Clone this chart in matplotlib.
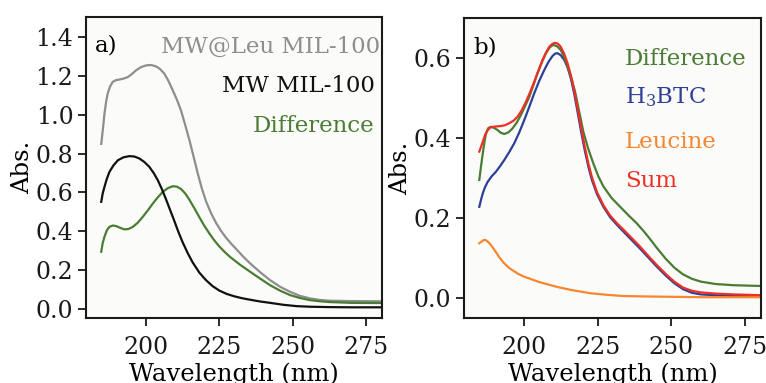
import numpy as np
import matplotlib.pyplot as plt

plt.rcParams['font.family'] = ['DejaVu Serif']
plt.rcParams['mathtext.fontset'] = 'dejavuserif'

# panel a) wavelength (nm) vs absorbance
wl_leu = [184.7, 185.3, 185.8, 186.4, 186.9, 187.7, 188.6, 189.7, 190.9, 192.3, 193.8,
          195.2, 196.6, 198.3, 200.0, 201.7, 203.4, 204.8, 206.2, 207.6, 209.1, 210.5,
          211.9, 213.3, 214.8, 216.2, 217.6, 219.0, 220.5, 222.2, 223.9, 225.6, 227.3,
          229.0, 230.7, 233.0, 235.5, 238.9, 242.3, 245.7, 249.1, 252.5, 255.9, 259.3,
          262.7, 270.0, 280.5]
abs_leu = [0.85, 0.93, 1.006, 1.07, 1.109, 1.145, 1.169, 1.178, 1.181, 1.186, 1.194,
           1.21, 1.229, 1.245, 1.254, 1.256, 1.249, 1.235, 1.212, 1.175, 1.126, 1.078,
           1.023, 0.95, 0.869, 0.785, 0.70, 0.622, 0.553, 0.492, 0.443, 0.402, 0.367,
           0.337, 0.31, 0.272, 0.235, 0.19, 0.149, 0.115, 0.089, 0.068, 0.055, 0.047,
           0.043, 0.041, 0.040]

wl_mw = [184.7, 185.2, 185.8, 186.6, 187.5, 188.9, 190.4, 192.3, 194.3, 196.0, 197.7,
         199.4, 201.1, 202.6, 204.0, 205.4, 206.8, 208.2, 209.6, 211.0, 212.5, 214.2,
         215.9, 218.2, 220.5, 222.7, 225.0, 227.5, 230.0, 232.7, 235.5, 238.9, 242.3,
         246.8, 251.4, 256.0, 262.7, 270.0, 280.5]
abs_mw = [0.552, 0.595, 0.629, 0.67, 0.706, 0.74, 0.766, 0.781, 0.787, 0.785, 0.775,
          0.757, 0.732, 0.70, 0.663, 0.617, 0.565, 0.51, 0.455, 0.398, 0.343, 0.288,
          0.24, 0.187, 0.148, 0.118, 0.095, 0.078, 0.066, 0.056, 0.048, 0.039, 0.032,
          0.022, 0.015, 0.012, 0.010, 0.009, 0.009]

wl_diff_a = [184.7, 185.2, 185.8, 186.6, 187.5, 188.6, 189.8, 191.2, 192.6, 194.0, 195.5,
             197.2, 198.9, 200.6, 202.3, 204.0, 205.7, 207.4, 209.1, 210.5, 211.9, 213.3,
             214.8, 216.5, 218.2, 219.9, 221.6, 223.3, 225.0, 226.8, 228.6, 231.9, 235.5,
             238.9, 242.3, 245.7, 249.1, 252.5, 255.9, 259.3, 262.7, 270.0, 280.5]
abs_diff_a = [0.295, 0.34, 0.372, 0.405, 0.423, 0.43, 0.427, 0.418, 0.410, 0.412, 0.423,
              0.445, 0.475, 0.508, 0.543, 0.575, 0.603, 0.622, 0.632, 0.630, 0.618, 0.596,
              0.562, 0.518, 0.472, 0.428, 0.389, 0.353, 0.322, 0.294, 0.269, 0.23, 0.192,
              0.157, 0.123, 0.095, 0.072, 0.057, 0.046, 0.040, 0.036, 0.032, 0.031]

# panel b)
wl_diff_b = [184.7, 185.3, 185.9, 186.5, 187.0, 187.8, 188.7, 189.8, 190.9, 192.0, 193.2,
             194.6, 196.0, 197.4, 198.9, 200.3, 201.7, 203.1, 204.5, 206.0, 207.4, 208.7,
             209.9, 211.2, 212.4, 213.6, 214.7, 216.0, 217.3, 218.7, 220.1, 221.8, 223.5,
             225.2, 226.9, 229.7, 232.6, 235.4, 238.2, 240.5, 242.7, 245.0, 248.0, 251.0,
             254.0, 257.0, 260.0, 265.0, 271.0, 280.5]
abs_diff_b = [0.295, 0.33, 0.362, 0.392, 0.412, 0.425, 0.428, 0.425, 0.42, 0.413, 0.41,
              0.414, 0.424, 0.438, 0.458, 0.48, 0.503, 0.532, 0.562, 0.59, 0.612, 0.627,
              0.633, 0.629, 0.62, 0.602, 0.578, 0.55, 0.515, 0.465, 0.415, 0.372, 0.336,
              0.304, 0.279, 0.25, 0.228, 0.207, 0.187, 0.168, 0.148, 0.126, 0.099, 0.076,
              0.059, 0.048, 0.041, 0.035, 0.032, 0.030]

wl_btc = [184.7, 185.3, 185.9, 186.7, 187.6, 189.0, 190.4, 191.8, 193.2, 194.9, 196.6,
          198.3, 200.0, 201.7, 203.4, 205.1, 206.8, 208.2, 209.6, 210.5, 211.3, 212.4,
          213.6, 214.7, 215.8, 217.0, 218.2, 219.4, 220.6, 221.8, 223.0, 224.7, 226.9,
          229.2, 231.5, 233.7, 236.5, 239.3, 242.7, 245.5, 248.4, 251.0, 254.0, 257.0,
          260.0, 265.0, 271.0, 280.5]
abs_btc = [0.228, 0.246, 0.262, 0.278, 0.291, 0.305, 0.316, 0.33, 0.345, 0.365, 0.387,
           0.414, 0.445, 0.478, 0.512, 0.543, 0.57, 0.59, 0.605, 0.611, 0.612, 0.607,
           0.595, 0.577, 0.55, 0.51, 0.462, 0.413, 0.368, 0.328, 0.295, 0.26, 0.228,
           0.202, 0.183, 0.166, 0.145, 0.124, 0.097, 0.075, 0.054, 0.037, 0.022, 0.013,
           0.009, 0.007, 0.005, 0.004]

wl_leucine = [184.7, 185.5, 186.2, 186.8, 187.6, 188.5, 189.5, 190.5, 191.7, 193.0,
              194.7, 196.5, 198.0, 199.7, 202.0, 205.0, 208.0, 211.0, 216.0, 222.4,
              228.0, 233.6, 240.0, 250.0, 260.0, 280.5]
abs_leucine = [0.137, 0.141, 0.145, 0.145, 0.141, 0.134, 0.124, 0.113, 0.100, 0.088,
               0.076, 0.067, 0.060, 0.054, 0.048, 0.040, 0.034, 0.028, 0.020, 0.012,
               0.008, 0.005, 0.004, 0.003, 0.002, 0.002]

wl_sum = [184.7, 185.3, 185.9, 186.7, 187.6, 188.4, 189.3, 190.7, 192.1, 193.5, 194.9,
          196.3, 197.7, 199.1, 200.6, 202.0, 203.4, 204.8, 206.2, 207.4, 208.5, 209.5,
          210.4, 211.4, 212.4, 213.6, 214.7, 215.9, 217.0, 218.2, 219.4, 220.6, 221.8,
          223.0, 224.7, 226.9, 229.2, 231.5, 233.7, 236.5, 239.3, 242.7, 245.5, 248.4,
          251.0, 254.0, 257.0, 260.0, 265.0, 271.0, 280.5]
abs_sum = [0.366, 0.378, 0.391, 0.408, 0.42, 0.426, 0.428, 0.429, 0.43, 0.432, 0.437,
           0.443, 0.453, 0.469, 0.491, 0.515, 0.541, 0.568, 0.595, 0.614, 0.628, 0.635,
           0.638, 0.636, 0.628, 0.61, 0.587, 0.555, 0.518, 0.472, 0.424, 0.377, 0.336,
           0.302, 0.265, 0.232, 0.206, 0.187, 0.171, 0.150, 0.129, 0.101, 0.079, 0.058,
           0.041, 0.026, 0.018, 0.014, 0.011, 0.009, 0.007]

bg = '#fbfbfa'
green = '#4a7d33'
blue = '#2e3f98'
orange = '#f68630'
red = '#ee3024'
gray = '#8e8e8e'
black = '#111111'

fig = plt.figure(figsize=(7.66, 3.83), dpi=100, facecolor='white')
ax1 = fig.add_axes([86/766, 1-318/383, 296/766, 301/383], facecolor=bg)
ax2 = fig.add_axes([464/766, 1-318/383, 297/766, 300/383], facecolor=bg)

lw = 1.6
ax1.plot(wl_leu, abs_leu, color=gray, lw=lw)
ax1.plot(wl_diff_a, abs_diff_a, color=green, lw=lw)
ax1.plot(wl_mw, abs_mw, color=black, lw=lw)

ax2.plot(wl_btc, abs_btc, color=blue, lw=lw)
ax2.plot(wl_diff_b, abs_diff_b, color=green, lw=lw)
ax2.plot(wl_sum, abs_sum, color=red, lw=lw)
ax2.plot(wl_leucine, abs_leucine, color=orange, lw=lw)

for ax in (ax1, ax2):
    ax.set_xlim(179.5, 280.5)
    ax.set_xticks([200, 225, 250, 275])
    for s in ax.spines.values():
        s.set_linewidth(1.5)
        s.set_color('#1a1a1a')
    ax.tick_params(direction='out', length=6, width=1.3, labelsize=17, pad=3,
                   colors='#1a1a1a')
    ax.tick_params(axis='x', pad=7)
    ax.set_xlabel('Wavelength (nm)', fontsize=17.5, labelpad=2.5)
    ax.set_ylabel('Abs.', fontsize=17.5, labelpad=1)

ax1.set_ylim(-0.046, 1.503)
ax1.set_yticks([0.0, 0.2, 0.4, 0.6, 0.8, 1.0, 1.2, 1.4])
ax1.set_yticklabels(['0.0', '0.2', '0.4', '0.6', '0.8', '1.0', '1.2', '1.4'])
ax2.set_ylim(-0.05, 0.7)
ax2.set_yticks([0.0, 0.2, 0.4, 0.6])
ax2.set_yticklabels(['0.0', '0.2', '0.4', '0.6'])

tfs = 16.5
ax1.text(0.03, 0.884, 'a)', transform=ax1.transAxes, fontsize=tfs, va='baseline')
ax1.text(0.995, 0.88, 'MW@Leu MIL-100', transform=ax1.transAxes, fontsize=tfs,
         va='baseline', ha='right', color=gray)
ax1.text(0.976, 0.751, 'MW MIL-100', transform=ax1.transAxes, fontsize=tfs,
         va='baseline', ha='right', color=black)
ax1.text(0.973, 0.618, 'Difference', transform=ax1.transAxes, fontsize=tfs,
         va='baseline', ha='right', color=green)

ax2.text(0.03, 0.883, 'b)', transform=ax2.transAxes, fontsize=tfs, va='baseline')
ax2.text(0.542, 0.843, 'Difference', transform=ax2.transAxes, fontsize=tfs,
         va='baseline', color=green)
ax2.text(0.542, 0.717, r'H$_3$BTC', transform=ax2.transAxes, fontsize=tfs,
         va='baseline', color=blue)
ax2.text(0.542, 0.567, 'Leucine', transform=ax2.transAxes, fontsize=tfs,
         va='baseline', color=orange)
ax2.text(0.542, 0.437, 'Sum', transform=ax2.transAxes, fontsize=tfs,
         va='baseline', color=red)

fig.savefig('out.png', dpi=100, facecolor='white')
